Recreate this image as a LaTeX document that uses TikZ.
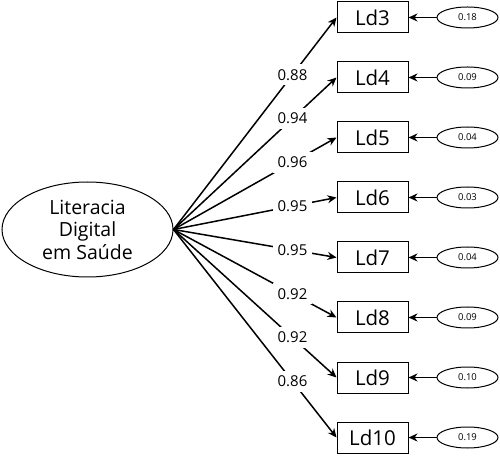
\documentclass[tikz,border=0pt]{standalone}
\usepackage{fontspec}
\setmainfont{Open Sans}
\usetikzlibrary{arrows.meta,shapes.geometric}
\begin{document}
\begin{tikzpicture}[x=1pt,y=1pt,
 box/.style={draw,line width=1pt,minimum width=71pt,minimum height=31pt,inner sep=0pt,font=\fontsize{20.5}{22}\selectfont},
 err/.style={draw,ellipse,line width=1pt,minimum width=61pt,minimum height=21pt,inner sep=0pt,font=\fontsize{9.5}{10}\selectfont},
 load/.style={line width=1.5pt,-{Stealth[length=9pt,width=8pt]}},
 lab/.style={fill=white,inner sep=5pt,font=\fontsize{15}{16}\selectfont}]
\useasboundingbox (0,0) rectangle (500,455);
\node[draw,ellipse,line width=1pt,minimum width=171pt,minimum height=95pt,inner sep=0pt,align=center,font=\fontsize{19.5}{22.5}\selectfont] (f) at (87.5,225.5) {Literacia\\Digital\\em Saúde};
\foreach \k/\e [count=\i from 0] in {3/0.18,4/0.09,5/0.04,6/0.03,7/0.04,8/0.09,9/0.10,10/0.19}{
  \node[box] (b\k) at (372.5,437.5-60*\i) {Ld\k};
  \node[err] (e\k) at (467.5,437.5-60*\i) {\e};
  \draw[load] (e\k.west) -- (b\k.east);
}
\foreach \k/\l in {3/0.88,4/0.94,5/0.96,6/0.95,7/0.95,8/0.92,9/0.92,10/0.86}{
  \draw[load] (f.east) -- node[lab,pos=0.73] {\l} (b\k.west);
}
\end{tikzpicture}
\end{document}
